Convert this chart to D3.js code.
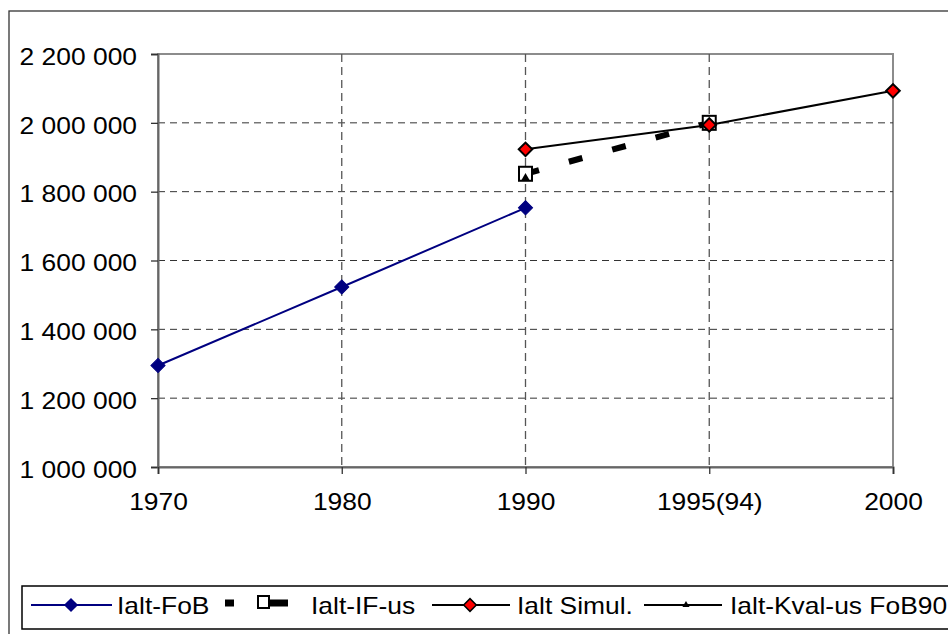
<!DOCTYPE html>
<html><head><meta charset="utf-8">
<script src="https://cdn.jsdelivr.net/npm/d3@7"></script>
<style>
html,body{margin:0;padding:0;background:#fff;}
svg{display:block;}
text{font-family:"Liberation Sans",Arial,sans-serif;fill:#000;}
</style></head>
<body>
<svg id="chart" width="948" height="634"></svg>
<script>
// ---- data ----
const categories = ["1970", "1980", "1990", "1995(94)", "2000"];
const ialtFoB   = [1295000, 1523000, 1753000, null, null];
const ialtIFus  = [null, null, 1852000, 2000000, null];
const ialtSimul = [null, null, 1923000, 1994000, 2093000];
const ialtKval  = [null, null, 1840000, null, null];
const yTicks = [1000000, 1200000, 1400000, 1600000, 1800000, 2000000, 2200000];
const legendLabels = ["Ialt-FoB", "Ialt-IF-us", "Ialt Simul.", "Ialt-Kval-us FoB90"];

// ---- layout ----
const svg = d3.select("#chart");
const L = 158, R = 893, T = 54, B = 467;
const x = d3.scalePoint().domain(categories).range([L, R]);
const y = d3.scaleLinear().domain([1000000, 2200000]).range([B, T]);
const fmt = v => d3.format(",")(v).replace(/,/g, " ");
const FS = 24, STRETCH = 1.1;
function stretch(sel) {
  sel.each(function() {
    const w = this.getComputedTextLength();
    d3.select(this).attr("textLength", w * STRETCH).attr("lengthAdjust", "spacingAndGlyphs");
  });
}

// outer chart border
svg.append("rect").attr("x", 9).attr("y", 11).attr("width", 960).attr("height", 650)
  .attr("fill", "#fff").attr("stroke", "#333").attr("stroke-width", 1.3);

// plot area border (top/right)
svg.append("rect").attr("x", L).attr("y", T).attr("width", R - L).attr("height", B - T)
  .attr("fill", "none").attr("stroke", "#8c8c8c").attr("stroke-width", 2);

// gridlines
const g = svg.append("g");
g.selectAll(".hg").data(yTicks.filter(v => v > 1000000 && v < 2200000)).enter().append("line")
  .attr("x1", L).attr("x2", R).attr("y1", d => y(d)).attr("y2", d => y(d))
  .attr("stroke", "#333").attr("stroke-width", 1).attr("stroke-dasharray", "7,5");
g.selectAll(".vg").data(categories.slice(1, -1)).enter().append("line")
  .attr("x1", d => x(d)).attr("x2", d => x(d)).attr("y1", T).attr("y2", B)
  .attr("stroke", "#555").attr("stroke-width", 1.3).attr("stroke-dasharray", "8,5");

// axes
const yAxis = d3.axisLeft(y).tickValues(yTicks).tickFormat(fmt).tickSize(7).tickPadding(14);
const ya = svg.append("g").attr("transform", `translate(${L},0)`).call(yAxis);
const xAxis = d3.axisBottom(x).tickSize(7).tickPadding(19);
const xa = svg.append("g").attr("transform", `translate(0,${B})`).call(xAxis);
[ya, xa].forEach(a => {
  a.attr("font-size", FS).attr("font-family", "Liberation Sans, Arial, sans-serif");
  a.select(".domain").attr("stroke", "#666").attr("stroke-width", 2);
  a.selectAll(".tick line").attr("stroke", "#333").attr("stroke-width", 1.3);
  a.selectAll("text").attr("font-size", FS).attr("fill", "#000");
});
ya.selectAll(".tick text").attr("dy", "0.43em");
xa.selectAll(".tick text").attr("dy", "0.71em");
stretch(ya.selectAll(".tick text"));
stretch(xa.selectAll(".tick text"));

// helpers
const pts = arr => categories.map((c, i) => ({c, v: arr[i]})).filter(d => d.v != null);
const line = d3.line().x(d => x(d.c)).y(d => y(d.v));
const diamond = (s) => d3.symbol(d3.symbolSquare, s)();

// Ialt-FoB
svg.append("path").attr("d", line(pts(ialtFoB))).attr("fill", "none")
  .attr("stroke", "#000080").attr("stroke-width", 2);
svg.selectAll(".mFoB").data(pts(ialtFoB)).enter().append("path")
  .attr("d", diamond(100)).attr("transform", d => `translate(${x(d.c)},${y(d.v)}) rotate(45)`)
  .attr("fill", "#000080").attr("stroke", "#000080").attr("stroke-width", 1);

// Ialt-IF-us
svg.append("path").attr("d", line(pts(ialtIFus))).attr("fill", "none")
  .attr("stroke", "#000").attr("stroke-width", 6).attr("stroke-dasharray", "14,31");
svg.selectAll(".mIF").data(pts(ialtIFus)).enter().append("rect")
  .attr("x", d => x(d.c) - 6.5).attr("y", d => y(d.v) - 7).attr("width", 13).attr("height", 14)
  .attr("fill", "#fff").attr("stroke", "#000").attr("stroke-width", 2);

// Ialt Simul.
svg.append("path").attr("d", line(pts(ialtSimul))).attr("fill", "none")
  .attr("stroke", "#000").attr("stroke-width", 2);
svg.selectAll(".mSim").data(pts(ialtSimul)).enter().append("path")
  .attr("d", diamond(92)).attr("transform", d => `translate(${x(d.c)},${y(d.v)}) rotate(45)`)
  .attr("fill", "#ff0000").attr("stroke", "#000").attr("stroke-width", 2);

// Ialt-Kval-us FoB90
svg.append("path").attr("d", line(pts(ialtKval))).attr("fill", "none")
  .attr("stroke", "#000").attr("stroke-width", 2);
svg.selectAll(".mKv").data(pts(ialtKval)).enter().append("path")
  .attr("d", d3.symbol(d3.symbolTriangle, 32)()).attr("transform", d => `translate(${x(d.c)},${y(d.v)})`)
  .attr("fill", "#000");

// ---- legend ----
const lg = svg.append("g");
lg.append("rect").attr("x", 22).attr("y", 586).attr("width", 960).attr("height", 43)
  .attr("fill", "#fff").attr("stroke", "#000").attr("stroke-width", 1.5);
const ly = 605;
// FoB
lg.append("line").attr("x1", 31).attr("x2", 112).attr("y1", ly).attr("y2", ly).attr("stroke", "#000080").attr("stroke-width", 2);
lg.append("path").attr("d", diamond(100)).attr("transform", `translate(71,${ly}) rotate(45)`).attr("fill", "#000080");
// IF-us
lg.append("line").attr("x1", 225).attr("x2", 288).attr("y1", ly - 2).attr("y2", ly - 2).attr("stroke", "#000")
  .attr("stroke-width", 7).attr("stroke-dasharray", "9,25,30");
lg.append("rect").attr("x", 258).attr("y", ly - 9).attr("width", 11).attr("height", 12)
  .attr("fill", "#fff").attr("stroke", "#000").attr("stroke-width", 2);
// Simul
lg.append("line").attr("x1", 432).attr("x2", 510).attr("y1", ly).attr("y2", ly).attr("stroke", "#000").attr("stroke-width", 2);
lg.append("path").attr("d", diamond(80)).attr("transform", `translate(470,${ly}) rotate(45)`)
  .attr("fill", "#ff0000").attr("stroke", "#000").attr("stroke-width", 1.5);
// Kval
lg.append("line").attr("x1", 644).attr("x2", 722).attr("y1", ly).attr("y2", ly).attr("stroke", "#000").attr("stroke-width", 2);
lg.append("path").attr("d", d3.symbol(d3.symbolTriangle, 22)()).attr("transform", `translate(686,${ly})`).attr("fill", "#000");

const lx = [117, 311, 517, 730];
const lt = lg.selectAll(".lt").data(legendLabels).enter().append("text")
  .attr("x", (d, i) => lx[i]).attr("y", ly + 9).attr("font-size", FS).text(d => d);
stretch(lt);
</script>
</body></html>
